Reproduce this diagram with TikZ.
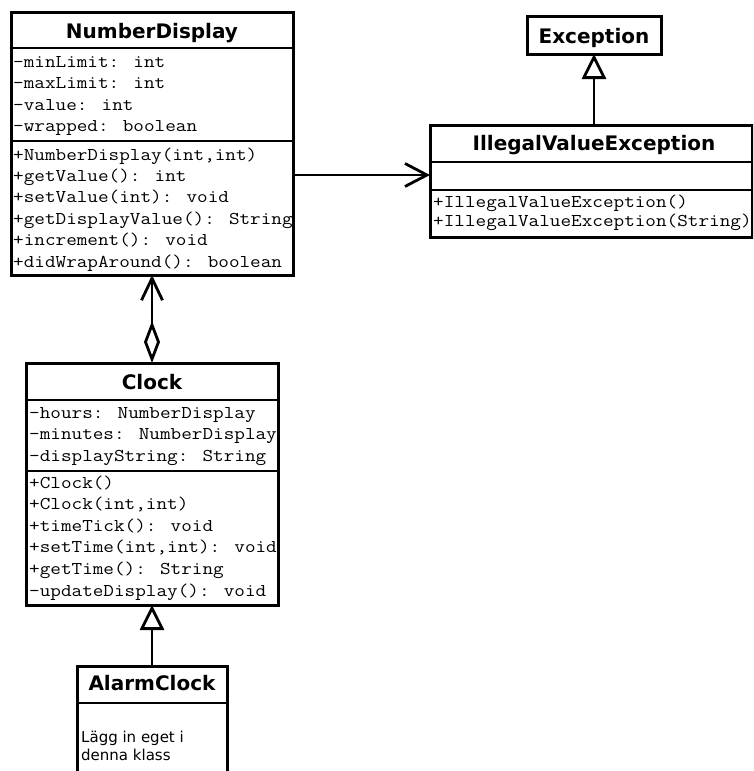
\documentclass[tikz,border=0pt]{standalone}
\usepackage{fontspec}
\setmainfont{DejaVu Sans}
\newfontfamily\monof{Latin Modern Mono}[FakeStretch=1.145]
\usetikzlibrary{arrows.meta}
\tikzset{
  box/.style={draw, line width=3pt, inner sep=0pt, outer sep=0pt, anchor=north west},
  sepline/.style={line width=2.6pt},
  title/.style={font=\bfseries\fontsize{20}{22}\selectfont, anchor=base, inner sep=0pt},
  mono/.style={font=\monof\fontsize{18}{21.6}\selectfont, anchor=base west, inner sep=0pt},
  body/.style={font=\fontsize{15}{18}\selectfont, anchor=base west, inner sep=0pt},
  conn/.style={line width=2.8pt},
  openarrow/.style={-{Straight Barb[length=22pt,width=23pt]}},
  gentip/.style={-{Triangle[open,length=25pt,width=24pt]}},
  aggr/.style={{Diamond[open,length=42pt,width=16pt]}-{Straight Barb[length=22pt,width=21pt]}}
}
\begin{document}
\begin{tikzpicture}[x=1pt,y=-1pt]
\useasboundingbox (0,0) rectangle (753,771);
\clip (0,0) rectangle (753,771);
\fill[white] (0,0) rectangle (753,771);

% NumberDisplay
\node[box, minimum width=282pt, minimum height=263pt] (nd) at (11,12) {};
\draw[sepline] (nd.west |- 0,48) -- (nd.east |- 0,48);
\draw[sepline] (nd.west |- 0,141) -- (nd.east |- 0,141);
\node[title] (ndt) at (152,38.3) {NumberDisplay};
\foreach \t [count=\i] in {{-minLimit: int},{-maxLimit: int},{-value: int},{-wrapped: boolean}}
  \node[mono, name=nda\i] at (13,{67+21.6*(\i-1)}) {\t};
\foreach \t [count=\i] in {{+NumberDisplay(int,int)},{+getValue(): int},{+setValue(int): void},{+getDisplayValue(): String},{+increment(): void},{+didWrapAround(): boolean}}
  \node[mono, name=ndm\i] at (13,{160+21.4*(\i-1)}) {\t};

% Exception
\node[box, minimum width=134pt, minimum height=38pt] (exc) at (527,16) {};
\node[title] (exct) at (594,43.3) {Exception};

% IllegalValueException
\node[box, minimum width=322pt, minimum height=112pt] (ive) at (430,125) {};
\draw[sepline] (ive.west |- 0,162) -- (ive.east |- 0,162);
\draw[sepline] (ive.west |- 0,190) -- (ive.east |- 0,190);
\node[title] (ivet) at (594,150.7) {IllegalValueException};
\node[mono] (ivem1) at (433,207) {+IllegalValueException()};
\node[mono] (ivem2) at (433,226.5) {+IllegalValueException(String)};

% Clock
\node[box, minimum width=252pt, minimum height=242pt] (clk) at (26,363) {};
\draw[sepline] (clk.west |- 0,400) -- (clk.east |- 0,400);
\draw[sepline] (clk.west |- 0,471) -- (clk.east |- 0,471);
\node[title] (clkt) at (152,389) {Clock};
\foreach \t [count=\i] in {{-hours: NumberDisplay},{-minutes: NumberDisplay},{-displayString: String}}
  \node[mono, name=clka\i] at (29,{418+21.7*(\i-1)}) {\t};
\foreach \t [count=\i] in {{+Clock()},{+Clock(int,int)},{+timeTick(): void},{+setTime(int,int): void},{+getTime(): String},{-updateDisplay(): void}}
  \node[mono, name=clkm\i] at (29,{488+21.6*(\i-1)}) {\t};

% AlarmClock
\node[box, minimum width=150pt, minimum height=140pt] (ac) at (77,666) {};
\draw[sepline] (ac.west |- 0,703) -- (ac.east |- 0,703);
\node[title] (act) at (152,690) {AlarmClock};
\node[body] (acb1) at (81,742) {Lägg in eget i};
\node[body] (acb2) at (81,760) {denna klass};

% Connectors
\draw[conn, openarrow] (nd.east |- 0,175) -- (ive.west |- 0,175);
\draw[conn, gentip] (ive.north -| exc.south) -- (exc.south);
\draw[conn, aggr] (clk.north) -- (nd.south);
\draw[conn, gentip] (ac.north) -- (clk.south);
\end{tikzpicture}
\end{document}
